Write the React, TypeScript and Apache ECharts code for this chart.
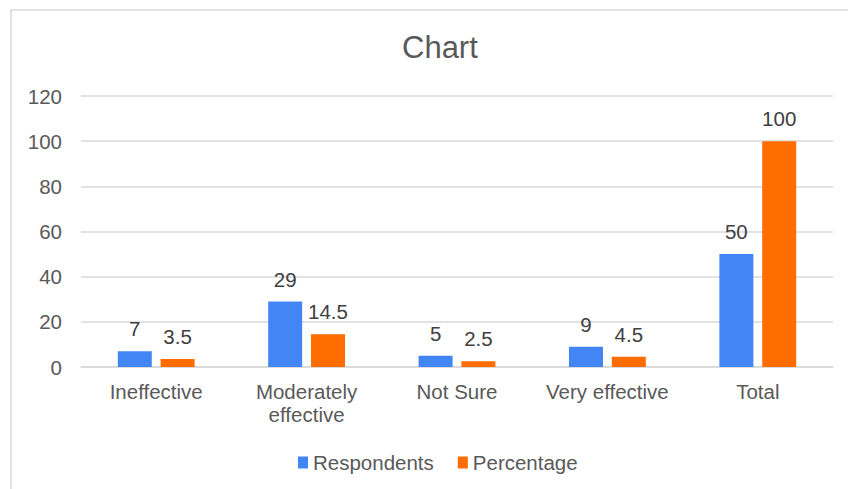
import React, { useEffect, useRef } from "react";
import * as echarts from "echarts";

const categories = ["Ineffective", "Moderately\neffective", "Not Sure", "Very effective", "Total"];
const respondents = [7, 29, 5, 9, 50];
const percentage = [3.5, 14.5, 2.5, 4.5, 100];
const seriesNames = ["Respondents", "Percentage"];

const FONT = "Arial, 'Liberation Sans', sans-serif";

export default function App() {
  const ref = useRef<HTMLDivElement>(null);
  useEffect(() => {
    const chart = echarts.init(ref.current!, undefined, { renderer: "svg" });
    const label = {
      show: true,
      position: "top" as const,
      distance: 12,
      color: "#404040",
      fontSize: 20.5,
      fontFamily: FONT,
    };
    chart.setOption({
      animation: false,
      backgroundColor: "#ffffff",
      title: {
        text: "Chart",
        left: 397,
        top: 27,
        textStyle: { color: "#595959", fontSize: 31, fontWeight: "normal", fontFamily: FONT },
      },
      graphic: [
        {
          type: "rect",
          shape: { x: 11, y: 10, width: 900, height: 500 },
          style: { fill: "none", stroke: "#d9d9d9", lineWidth: 1.5 },
          silent: true,
          z: -1,
        },
      ],
      legend: {
        top: 447,
        left: 293,
        itemWidth: 10,
        itemHeight: 12,
        itemGap: 24,
        icon: "rect",
        textStyle: { color: "#595959", fontSize: 20.5, fontFamily: FONT },
        data: seriesNames,
      },
      grid: { left: 81, right: 15, top: 96, bottom: 122 },
      xAxis: {
        type: "category",
        data: categories,
        axisLine: { show: true, lineStyle: { color: "#d9d9d9", width: 1.5 } },
        axisTick: { show: false },
        axisLabel: { color: "#595959", fontSize: 20.5, fontFamily: FONT, margin: 13, lineHeight: 23, interval: 0 },
      },
      yAxis: {
        type: "value",
        min: 0,
        max: 120,
        interval: 20,
        axisLine: { show: false },
        axisTick: { show: false },
        splitLine: { lineStyle: { color: "#d9d9d9", width: 1.5 } },
        axisLabel: { color: "#595959", fontSize: 20.5, fontFamily: FONT, margin: 19 },
      },
      series: [
        {
          name: seriesNames[0],
          type: "bar",
          data: respondents,
          itemStyle: { color: "#4285f4" },
          barWidth: 34,
          barGap: "26%",
          label,
        },
        {
          name: seriesNames[1],
          type: "bar",
          data: percentage,
          itemStyle: { color: "#ff6d01" },
          barWidth: 34,
          label,
        },
      ],
    });
    return () => chart.dispose();
  }, []);
  return (
    <div
      ref={ref}
      style={{ position: "absolute", left: 0, top: 0, width: 848, height: 489 }}
    />
  );
}
